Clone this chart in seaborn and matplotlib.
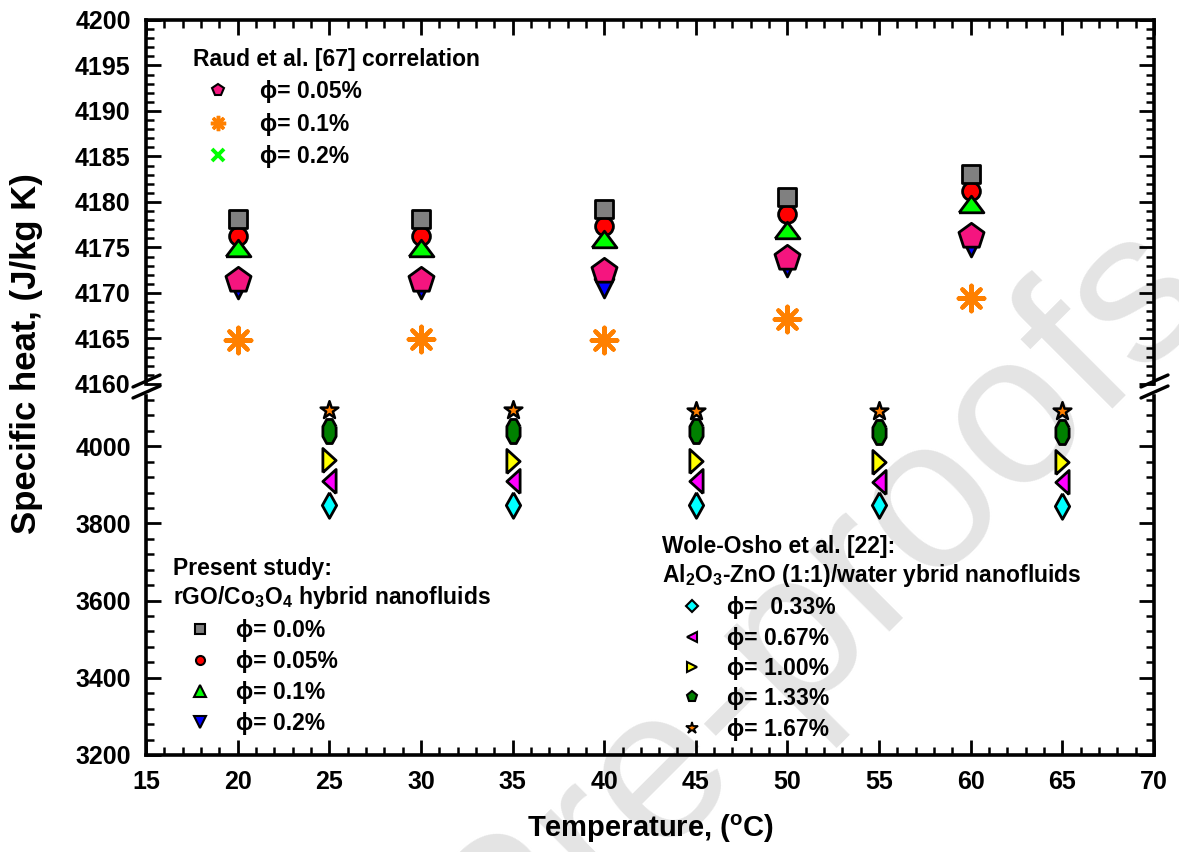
import numpy as np
import pandas as pd
import matplotlib
matplotlib.use("Agg")
import matplotlib.pyplot as plt
from matplotlib.lines import Line2D
from matplotlib.ticker import MultipleLocator
import seaborn as sns

# ---------------- data ----------------
temps_present = [20, 30, 40, 50, 60]
present_000 = [4178.1, 4178.1, 4179.2, 4180.6, 4183.1]
present_005 = [4176.3, 4176.3, 4177.4, 4178.7, 4181.2]
present_010 = [4174.9, 4174.9, 4175.9, 4176.9, 4179.8]
present_020 = [4170.4, 4170.4, 4170.6, 4172.9, 4175.1]
raud_005 = [4171.4, 4171.4, 4172.4, 4173.8, 4176.3]
raud_010 = [4164.8, 4164.9, 4164.8, 4167.1, 4169.5]

temps_wole = [25, 35, 45, 55, 65]
wole_033 = [3848, 3848, 3847, 3847, 3846]
wole_067 = [3911, 3910, 3909, 3908, 3907]
wole_100 = [3963, 3962, 3961, 3960, 3959]
wole_133 = [4040, 4040, 4039, 4038, 4037]
wole_167 = [4093, 4093, 4092, 4092, 4091]

x_ticks = [15, 20, 25, 30, 35, 40, 45, 50, 55, 60, 65, 70]
upper_yticks = [4160, 4165, 4170, 4175, 4180, 4185, 4190, 4195, 4200]
lower_yticks = [3200, 3400, 3600, 3800, 4000]

raud_labels = ["ϕ= 0.05%", "ϕ= 0.1%", "ϕ= 0.2%"]
present_labels = ["ϕ= 0.0%", "ϕ= 0.05%", "ϕ= 0.1%", "ϕ= 0.2%"]
wole_labels = ["ϕ=  0.33%", "ϕ= 0.67%", "ϕ= 1.00%", "ϕ= 1.33%", "ϕ= 1.67%"]

# ---------------- style ----------------
sns.set_theme(style="ticks")
plt.rcParams["font.family"] = ["Liberation Sans", "DejaVu Sans"]
plt.rcParams["font.weight"] = "bold"
plt.rcParams["text.color"] = "black"
plt.rcParams["axes.labelcolor"] = "black"
plt.rcParams["xtick.color"] = "black"
plt.rcParams["ytick.color"] = "black"
plt.rcParams["xtick.labelcolor"] = "black"
plt.rcParams["ytick.labelcolor"] = "black"
plt.rcParams["mathtext.fontset"] = "custom"
plt.rcParams["mathtext.rm"] = "Liberation Sans:bold"
plt.rcParams["mathtext.it"] = "Liberation Sans:bold"
plt.rcParams["mathtext.bf"] = "Liberation Sans:bold"
plt.rcParams["mathtext.default"] = "rm"

W_PX, H_PX = 1179, 852
fig = plt.figure(figsize=(W_PX / 100, H_PX / 100), dpi=100)
fig.patch.set_facecolor("white")

left = 146 / W_PX
width = (1154 - 146) / W_PX
ax_top = fig.add_axes([left, 1 - 384 / H_PX, width, (384 - 20) / H_PX])
ax_bot = fig.add_axes([left, 1 - 755 / H_PX, width, (755 - 396) / H_PX])

# watermark
fig.text(1.0, 0.69, "Journal Pre-proofs", rotation=45, rotation_mode="anchor",
         ha="right", va="center", fontsize=155, color="#e4e4e4",
         fontweight="normal", zorder=-5)

def closed(v):
    return v + [v[0]]

tri_up_wide = closed([(-1.5, -1.0), (1.5, -1.0), (0.0, 1.0)])
tri_right_thin = closed([(-0.55, -1.0), (0.55, 0.0), (-0.55, 1.0)])
tri_left_thin = closed([(0.55, -1.0), (-0.55, 0.0), (0.55, 1.0)])
diamond_thin = closed([(0.0, 1.0), (0.56, 0.0), (0.0, -1.0), (-0.56, 0.0)])
ang = np.deg2rad(np.arange(8) * 45 + 22.5)
octagon_thin = closed([(0.55 * np.cos(a), np.sin(a)) for a in ang])

GRAY, RED, LIME, BLUE = "#808080", "#ff0000", "#00ff00", "#0000ff"
PINK, ORANGE = "#f5157f", "#ff8000"
CYAN, MAGENTA, YELLOW, DGREEN = "#00ffff", "#ff00ff", "#ffff00", "#008000"

def pts(ax, x, y, marker, s, fc, z, lw=2.0, ec="black"):
    sns.scatterplot(x=x, y=y, ax=ax, marker=marker, s=s, color=fc,
                    edgecolor=ec, linewidth=lw, zorder=z, clip_on=False,
                    legend=False)

# upper panel (present study + Raud correlation)
pts(ax_top, temps_present, present_005, "o", 165, RED, 3.0)
pts(ax_top, temps_present, present_020, "v", 185, BLUE, 3.1)
pts(ax_top, temps_present, present_000, "s", 170, GRAY, 3.2)
pts(ax_top, temps_present, present_010, tri_up_wide, 320, LIME, 3.3)
pts(ax_top, temps_present, raud_005, "p", 360, PINK, 3.4)
sns.scatterplot(x=temps_present, y=raud_010, ax=ax_top, marker=(8, 2, 0), s=340,
                color=ORANGE, linewidth=3, zorder=3.5, legend=False)

# lower panel (Wole-Osho et al.)
pts(ax_bot, temps_wole, wole_100, tri_right_thin, 300, YELLOW, 3.0)
pts(ax_bot, temps_wole, wole_067, tri_left_thin, 300, MAGENTA, 3.1)
pts(ax_bot, temps_wole, wole_033, diamond_thin, 340, CYAN, 3.2)
pts(ax_bot, temps_wole, wole_133, octagon_thin, 300, DGREEN, 3.3)
pts(ax_bot, temps_wole, wole_167, "*", 180, ORANGE, 3.4, lw=1.8)

# axes formatting
for ax in (ax_top, ax_bot):
    ax.patch.set_alpha(0)
    ax.set_xlim(15, 70)
    ax.set_xticks(x_ticks)
    ax.xaxis.set_minor_locator(MultipleLocator(1))
    for sp in ax.spines.values():
        sp.set_linewidth(2.6)
        sp.set_color("black")
    ax.tick_params(which="major", direction="in", length=11, width=2.0,
                   labelsize=18, color="black", labelcolor="black", pad=11)
    ax.tick_params(which="minor", direction="in", length=6, width=1.8,
                   color="black")
    ax.tick_params(axis="y", left=True, right=True, labelleft=True,
                   labelright=False, which="both")
    ax.set_xlabel("")
    ax.set_ylabel("")

ax_top.set_ylim(4160, 4200)
ax_top.set_yticks(upper_yticks)
ax_top.yaxis.set_minor_locator(MultipleLocator(1))
ax_top.spines["bottom"].set_visible(False)
ax_top.tick_params(axis="x", which="both", top=True, bottom=False,
                   labeltop=False, labelbottom=False)

ax_bot.set_ylim(3200, 4130)
ax_bot.set_yticks(lower_yticks)
ax_bot.yaxis.set_minor_locator(MultipleLocator(40))
ax_bot.spines["top"].set_visible(False)
ax_bot.tick_params(axis="x", which="both", top=False, bottom=True,
                   labeltop=False, labelbottom=True, pad=11)

for ax in (ax_top, ax_bot):
    for lab in ax.get_xticklabels() + ax.get_yticklabels():
        lab.set_fontweight("bold")
        lab.set_color("black")

# axis break marks
def brk(x0, y0):
    fig.add_artist(Line2D([(x0 - 13) / W_PX, (x0 + 14) / W_PX],
                          [1 - (y0 + 6) / H_PX, 1 - (y0 - 6) / H_PX],
                          color="black", lw=2.4, transform=fig.transFigure))

for xb in (146, 1154):
    brk(xb, 381)
    brk(xb, 392)

# axis labels
fig.text(651 / W_PX, 1 - 829 / H_PX, r"Temperature, ($^\mathrm{o}$C)",
         ha="center", va="center", fontsize=21, fontweight="bold")
fig.text(27 / W_PX, 1 - 354 / H_PX, "Specific heat, (J/kg K)", rotation=90,
         ha="center", va="center", fontsize=25, fontweight="bold")

# legends
FS = 16.5
prop = {"weight": "bold", "size": FS, "family": ["Liberation Sans", "DejaVu Sans"]}

def h(marker, fc, ms, ec="black", mew=1.5):
    return Line2D([], [], ls="", marker=marker, markerfacecolor=fc,
                  markeredgecolor=ec, markersize=ms, markeredgewidth=mew)

raud_handles = [h("p", PINK, 8.5),
                h((8, 2, 0), ORANGE, 11, ec=ORANGE, mew=2.5),
                h("x", LIME, 9, ec=LIME, mew=2.8)]
present_handles = [h("s", GRAY, 6.5), h("o", RED, 6.5), h("^", LIME, 8),
                   h("v", BLUE, 8)]
wole_handles = [h("D", CYAN, 6.5), h("<", MAGENTA, 7.5), h(">", YELLOW, 7.5),
                h("p", DGREEN, 8), h("*", ORANGE, 9, mew=1.3)]

def make_legend(handles, labels, title, x_px, y_px, hl, tp, ls):
    leg = fig.legend(handles, labels, loc="upper left",
                     bbox_to_anchor=(x_px / W_PX, 1 - y_px / H_PX),
                     bbox_transform=fig.transFigure, frameon=False,
                     title=title, alignment="left", prop=prop,
                     title_fontproperties=prop, handlelength=hl,
                     handletextpad=tp, labelspacing=ls, borderpad=0,
                     borderaxespad=0, markerscale=1.0)
    leg.get_title().set_linespacing(1.2)
    for t in leg.get_texts():
        t.set_color("black")
    leg.get_title().set_color("black")
    return leg

make_legend(raud_handles, raud_labels, "Raud et al. [67] correlation",
            193, 48, 2.18, 0.74, 0.41)
make_legend(present_handles, present_labels,
            "Present study:\nrGO/Co$_3$O$_4$ hybrid nanofluids",
            173, 557, 2.36, 0.40, 0.35)
make_legend(wole_handles, wole_labels,
            "Wole-Osho et al. [22]:\nAl$_2$O$_3$-ZnO (1:1)/water ybrid nanofluids",
            662, 535, 2.62, 0.22, 0.32)

fig.savefig("out.png", dpi=100)
